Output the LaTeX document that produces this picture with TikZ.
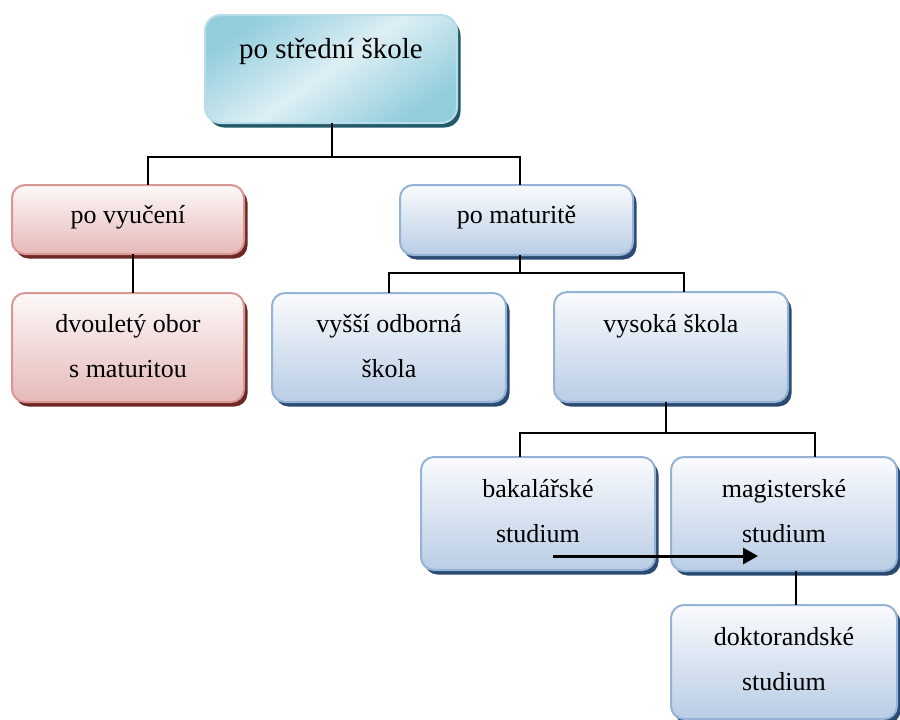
\documentclass[tikz,border=0pt]{standalone}
\usepackage{fontspec}
\setmainfont{Liberation Serif}
\usetikzlibrary{shadows,arrows.meta,calc}
\definecolor{bBorder}{HTML}{95B3D7}
\definecolor{bTop}{HTML}{FAFBFD}
\definecolor{bBot}{HTML}{B9CDE5}
\definecolor{bShadow}{HTML}{2A4A72}
\definecolor{rBorder}{HTML}{D99694}
\definecolor{rTop}{HTML}{FDF9F9}
\definecolor{rBot}{HTML}{E6B9B8}
\definecolor{rShadow}{HTML}{6E2927}
\definecolor{cBorder}{HTML}{B7DEE8}
\definecolor{cDark}{HTML}{93CDDD}
\definecolor{cLight}{HTML}{DDEFF4}
\definecolor{cShadow}{HTML}{215968}
\begin{document}
\begin{tikzpicture}[x=1pt,y=-1pt,
  box/.style={line width=2pt, rounded corners=13pt, inner sep=0pt, outer sep=0pt, anchor=north west},
  bluebox/.style={box, draw=bBorder, top color=bTop, bottom color=bBot,
    general shadow={fill=bShadow, shadow xshift=3.5pt, shadow yshift=-4.5pt}},
  redbox/.style={box, draw=rBorder, top color=rTop, bottom color=rBot,
    general shadow={fill=rShadow, shadow xshift=3.5pt, shadow yshift=-4.5pt}},
  cyanbox/.style={box, rounded corners=16pt, draw=cBorder, top color=cDark, bottom color=cDark, middle color=cLight, shading angle=35,
    general shadow={fill=cShadow, shadow xshift=3.5pt, shadow yshift=-4.5pt}},
  txt/.style={font=\fontsize{26}{45}\selectfont, align=center, anchor=base, inner sep=0pt},
  bigtxt/.style={txt, font=\fontsize{29}{45}\selectfont},
  conn/.style={line width=1.6pt, black},
  arr/.style={line width=3pt, black, -{Triangle[length=15pt,width=16pt]}}]
\useasboundingbox (0,0) rectangle (900,720);
\newcommand\mkbox[6]{\node[#1, minimum width={(#4)-(#2)}, minimum height={(#5)-(#3)}] (#6) at (#2,#3) {};}
% boxes
\mkbox{cyanbox}{205}{15}{457}{123}{top}
\mkbox{redbox}{12}{185}{244}{254}{vyuc}
\mkbox{redbox}{12}{293}{244}{402}{dvou}
\mkbox{bluebox}{400}{185}{633}{255}{mat}
\mkbox{bluebox}{272}{293}{506}{402}{vyssi}
\mkbox{bluebox}{554}{292}{788}{402}{vys}
\mkbox{bluebox}{421}{457}{655}{570}{bak}
\mkbox{bluebox}{671}{457}{897}{571}{mag}
\mkbox{bluebox}{671}{605}{897}{719}{dok}
% texts (base anchor = baseline of last line)
\node[bigtxt] (topT) at ($(top.north)+(0,43)$) {po střední škole};
\node[txt] (vyucT) at ($(vyuc.north)+(0,38)$) {po vyučení};
\node[txt] (dvouT) at ($(dvou.north)+(0,84)$) {dvouletý obor\\s maturitou};
\node[txt] (matT) at ($(mat.north)+(0,38)$) {po maturitě};
\node[txt] (vyssiT) at ($(vyssi.north)+(0,84)$) {vyšší odborná\\škola};
\node[txt] (vysT) at ($(vys.north)+(0,40)$) {vysoká škola};
\node[txt] (bakT) at ($(bak.north)+(0,85)$) {bakalářské\\studium};
\node[txt] (magT) at ($(mag.north)+(0,85)$) {magisterské\\studium};
\node[txt] (dokT) at ($(dok.north)+(0,85)$) {doktorandské\\studium};
% connectors
\coordinate (j1) at (332,157);
\coordinate (c1) at (148,157);
\coordinate (c2) at (520,157);
\draw[conn] (top.south -| j1) -- (j1);
\draw[conn] (vyuc.north -| c1) -- (c1) -- (c2) -- (mat.north -| c2);
\coordinate (c3) at (133,0);
\draw[conn] (vyuc.south -| c3) -- (dvou.north -| c3);
\coordinate (j2) at (520,273);
\coordinate (c4) at (389,273);
\coordinate (c5) at (684,273);
\draw[conn] (mat.south -| j2) -- (j2);
\draw[conn] (vyssi.north -| c4) -- (c4) -- (c5) -- (vys.north -| c5);
\coordinate (j3) at (666,433);
\coordinate (c6) at (520,433);
\coordinate (c7) at (815,433);
\draw[conn] (vys.south -| j3) -- (j3);
\draw[conn] (bak.north -| c6) -- (c6) -- (c7) -- (mag.north -| c7);
\coordinate (c8) at (796,0);
\draw[conn] (mag.south -| c8) -- (dok.north -| c8);
% arrow
\coordinate (aS) at (553,556);
\coordinate (aE) at (758,556);
\draw[arr] (aS) -- (aE);
\end{tikzpicture}
\end{document}
